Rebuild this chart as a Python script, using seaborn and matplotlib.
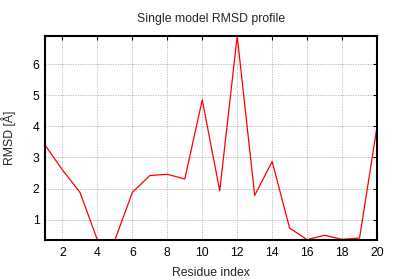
import matplotlib
matplotlib.use("Agg")
import matplotlib.pyplot as plt
import seaborn as sns
import pandas as pd

residues = list(range(1, 21))
rmsd = [3.40, 2.60, 1.88, 0.35, 0.35, 1.88, 2.42, 2.46, 2.31, 4.85,
        1.93, 6.90, 1.78, 2.87, 0.73, 0.36, 0.50, 0.37, 0.41, 3.98]
xticks = [2, 4, 6, 8, 10, 12, 14, 16, 18, 20]
yticks = [1, 2, 3, 4, 5, 6]

sns.set_theme(style="white")
plt.rcParams['font.family'] = ['Liberation Sans', 'DejaVu Sans']

df = pd.DataFrame({"Residue index": residues, "RMSD": rmsd})

fig = plt.figure(figsize=(4, 2.8), dpi=100)
ax = fig.add_axes([0.1125, 0.143, 0.83, 0.728])
sns.lineplot(data=df, x="Residue index", y="RMSD", color="#ff0000", lw=0.9, ax=ax)
ax.set_xlim(1, 20)
ax.set_ylim(min(rmsd), max(rmsd))
ax.set_xticks(xticks)
ax.set_yticks(yticks)
ax.grid(True, color="#b0b0b0", linestyle=(0, (1.5, 1.5)), linewidth=0.6)
ax.tick_params(direction="in", length=3, width=0.8, top=True, right=True,
               labelsize=8.8, colors="black")
ax.tick_params(axis="x", pad=5)
ax.tick_params(axis="y", pad=4)
for s in ax.spines.values():
    s.set_linewidth(1.5)
    s.set_color("black")
ax.set_xlabel("Residue index", fontsize=8.8, labelpad=6)
ax.set_ylabel("RMSD [Å]", fontsize=8.8, labelpad=12)
ax.set_title("Single model RMSD profile", fontsize=8.8, pad=10)
fig.savefig("out.png", dpi=100)
